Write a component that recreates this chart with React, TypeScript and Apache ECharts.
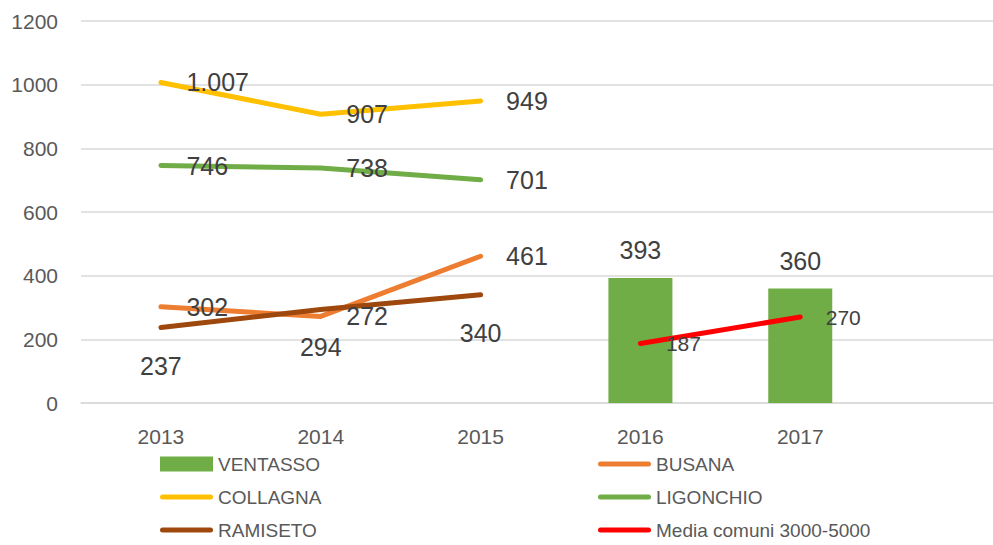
import React, { useEffect, useRef } from "react";
import * as echarts from "echarts";

const categories = ["2013", "2014", "2015", "2016", "2017", ""];
const ventasso = [null, null, null, 393, 360, null];
const busana = [302, 272, 461, null, null, null];
const collagna = [1007, 907, 949, null, null, null];
const ligonchio = [746, 738, 701, null, null, null];
const ramiseto = [237, 294, 340, null, null, null];
const media = [null, null, null, 187, 270, null];

const FONT = "'Liberation Sans', Arial, sans-serif";
const LABEL_COLOR = "#404040";
const LINE_ICON =
  "path://M2.5,0 H50.5 A2.5,2.5 0 0 1 50.5,5 H2.5 A2.5,2.5 0 0 1 2.5,0 Z";

const fmt = (v: number) => String(v).replace(/\B(?=(\d{3})+(?!\d))/g, ".");

function lineSeries(name: string, data: (number | null)[], color: string, labelPos: string, fontSize: number, distance: number) {
  return {
    name,
    type: "line",
    data,
    symbol: "circle",
    symbolSize: 1,
    showSymbol: true,
    connectNulls: false,
    lineStyle: { color, width: 5, cap: "round", join: "round" },
    itemStyle: { color },
    label: {
      show: true,
      position: labelPos,
      distance,
      fontSize,
      fontFamily: FONT,
      color: LABEL_COLOR,
      formatter: (p: any) => fmt(p.value),
    },
    labelLayout: { hideOverlap: false },
    z: 3,
  };
}

export default function App() {
  const ref = useRef<HTMLDivElement>(null);
  useEffect(() => {
    if (!ref.current) return;
    const chart = echarts.init(ref.current, undefined, { renderer: "svg" });
    const legendCommon = {
      orient: "vertical",
      top: 453,
      padding: 0,
      height: 92,
      itemWidth: 53,
      itemHeight: 15,
      itemGap: 11,
      textStyle: { fontSize: 19, fontFamily: FONT, color: "#595959", lineHeight: 22 },
      selectedMode: false,
    };
    chart.setOption({
      animation: false,
      textStyle: { fontFamily: FONT },
      grid: {
        left: 81,
        width: 959,
        top: 21,
        height: 382,
        containLabel: false,
        outerBoundsMode: "none",
      },
      legend: [
        {
          ...legendCommon,
          left: 160,
          data: [
            { name: "VENTASSO", icon: "rect" },
            { name: "COLLAGNA", icon: LINE_ICON },
            { name: "RAMISETO", icon: LINE_ICON },
          ],
        },
        {
          ...legendCommon,
          left: 598,
          data: [
            { name: "BUSANA", icon: LINE_ICON },
            { name: "LIGONCHIO", icon: LINE_ICON },
            { name: "Media comuni 3000-5000", icon: LINE_ICON },
          ],
        },
      ],
      xAxis: {
        type: "category",
        data: categories,
        boundaryGap: true,
        axisTick: { show: false },
        axisLine: { show: true, lineStyle: { color: "#d9d9d9", width: 1.5 } },
        axisLabel: { fontSize: 21, color: "#595959", margin: 23, fontFamily: FONT },
        splitLine: { show: false },
      },
      yAxis: {
        type: "value",
        min: 0,
        max: 1200,
        interval: 200,
        axisLine: { show: false },
        axisTick: { show: false },
        axisLabel: {
          fontSize: 21,
          color: "#595959",
          margin: 23,
          fontFamily: FONT,
          formatter: (v: number) => String(v),
        },
        splitLine: { show: true, lineStyle: { color: "#d9d9d9", width: 1.5 } },
      },
      series: [
        {
          name: "VENTASSO",
          type: "bar",
          data: ventasso,
          barWidth: 64,
          itemStyle: { color: "#70AD47" },
          label: {
            show: true,
            position: "top",
            distance: 15,
            fontSize: 25,
            fontFamily: FONT,
            color: LABEL_COLOR,
          },
          z: 2,
        },
        lineSeries("BUSANA", busana, "#ED7D31", "right", 25, 25),
        lineSeries("COLLAGNA", collagna, "#FFC000", "right", 25, 25),
        lineSeries("LIGONCHIO", ligonchio, "#70AD47", "right", 25, 25),
        lineSeries("RAMISETO", ramiseto, "#9E480E", "bottom", 25, 25),
        lineSeries("Media comuni 3000-5000", media, "#FF0000", "right", 21, 25),
      ],
    });
    return () => chart.dispose();
  }, []);
  return (
    <div
      ref={ref}
      style={{ position: "fixed", left: 0, top: 0, width: 993, height: 545, background: "#fff" }}
    />
  );
}
